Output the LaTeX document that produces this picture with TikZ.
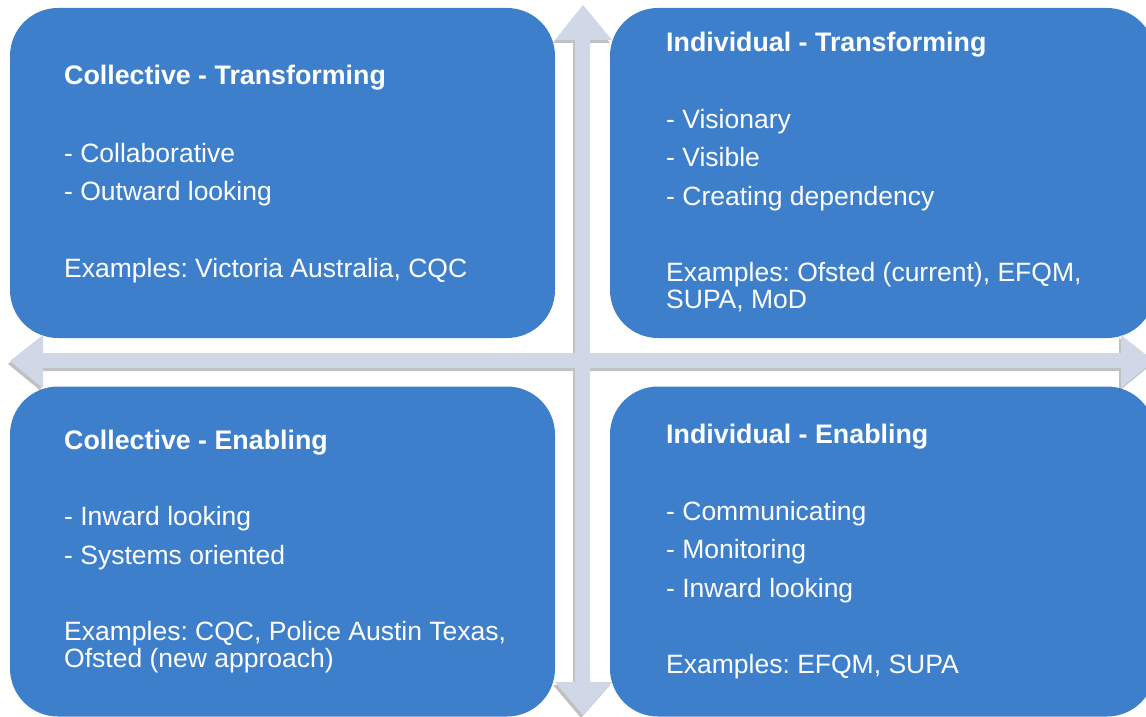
\documentclass[tikz,border=0pt]{standalone}
\usepackage{fontspec}
\setmainfont{Liberation Sans}
\usetikzlibrary{shadows}
\definecolor{boxblue}{RGB}{62,127,204}
\definecolor{arrowgray}{RGB}{208,215,230}
\frenchspacing
\tikzset{
  quad/.style={fill=boxblue, draw=none, rounded corners=48pt, minimum width=545pt, minimum height=330pt, inner sep=0pt},
  txt/.style={anchor=base west, inner sep=0pt, text=white, font=\fontsize{26.5}{27}\selectfont},
  ttl/.style={txt, font=\fontsize{26.8}{27}\selectfont\bfseries},
  cross/.style={fill=arrowgray, drop shadow={shadow xshift=-2pt, shadow yshift=-3pt, opacity=0.35, fill=black!70}}
}
\begin{document}
\begin{tikzpicture}[x=1pt,y=-1pt]
\useasboundingbox (0,0) rectangle (1146,717);
\clip (0,0) rectangle (1146,717);
% quadrant boxes
\node[quad] (tl) at (282.5,173) {};
\node[quad] (tr) at (882.5,173) {};
\node[quad] (bl) at (282.5,551.5) {};
\node[quad] (br) at (882.5,551.5) {};
% crossing double arrows
\path[cross]
  (583,5) -- (612,40) -- (590,40) -- (590,682) -- (612,682) -- (583,715) -- (555,682) -- (575,682) -- (575,40) -- (555,40) -- cycle
  (10,361) -- (43,335) -- (43,353) -- (1121,353) -- (1121,335) -- (1154,361) -- (1121,388) -- (1121,368) -- (43,368) -- (43,388) -- cycle;
% top-left text
\node[ttl] (tlt) at (64,84.5) {Collective - Transforming};
\node[txt] (tl1) at (64,162) {- Collaborative};
\node[txt] (tl2) at (64,200) {- Outward looking};
\node[txt] (tle) at (64,277) {Examples: Victoria Australia, CQC};
% top-right text
\node[ttl] (trt) at (666,51.5) {Individual - Transforming};
\node[txt] (tr1) at (666,128.5) {- Visionary};
\node[txt] (tr2) at (666,166.5) {- Visible};
\node[txt] (tr3) at (666,205.5) {- Creating dependency};
\node[txt] (tre1) at (666,281) {Examples: Ofsted (current), EFQM,};
\node[txt] (tre2) at (666,308) {SUPA, MoD};
% bottom-left text
\node[ttl] (blt) at (64,449.5) {Collective - Enabling};
\node[txt] (bl1) at (64,525.5) {- Inward looking};
\node[txt] (bl2) at (64,564.5) {- Systems oriented};
\node[txt] (ble1) at (64,640.5) {Examples: CQC, Police Austin Texas,};
\node[txt] (ble2) at (64,667.5) {Ofsted (new approach)};
% bottom-right text
\node[ttl] (brt) at (666,443.5) {Individual - Enabling};
\node[txt] (br1) at (666,520.5) {- Communicating};
\node[txt] (br2) at (666,558.5) {- Monitoring};
\node[txt] (br3) at (666,597.5) {- Inward looking};
\node[txt] (bre) at (666,673.5) {Examples: EFQM, SUPA};
\end{tikzpicture}
\end{document}
